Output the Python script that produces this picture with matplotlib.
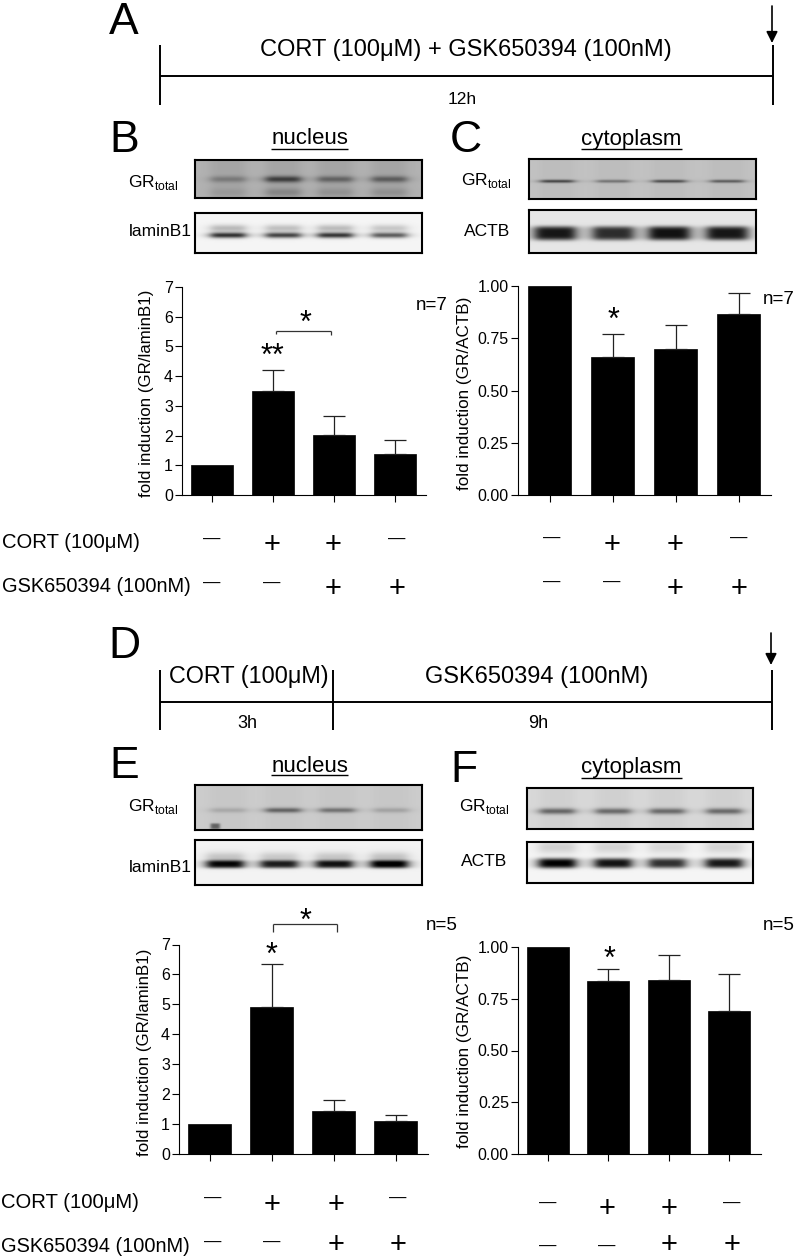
import numpy as np
import matplotlib
matplotlib.use('Agg')
import matplotlib.pyplot as plt

plt.rcParams['font.family'] = ['Liberation Sans', 'DejaVu Sans']
plt.rcParams['mathtext.fontset'] = 'custom'
plt.rcParams['mathtext.rm'] = 'Liberation Sans'

W, H = 796, 1257

# bar data
b_vals = [1.0, 3.5, 2.03, 1.38]
b_tops = [1.0, 4.2, 2.67, 1.85]
c_vals = [1.0, 0.66, 0.70, 0.865]
c_tops = [1.0, 0.77, 0.815, 0.965]
e_vals = [1.0, 4.9, 1.43, 1.1]
e_tops = [1.0, 6.35, 1.8, 1.3]
f_vals = [1.0, 0.835, 0.84, 0.69]
f_tops = [1.0, 0.895, 0.96, 0.87]

nuc_ticks = [0, 1, 2, 3, 4, 5, 6, 7]
cyt_ticks = [0.0, 0.25, 0.5, 0.75, 1.0]

cort_signs = ['-', '+', '+', '-']
gsk_signs = ['-', '-', '+', '+']

# band strength per lane of each blot
b_gr = [0.25, 0.60, 0.38, 0.42]
b_lamin = [0.80, 0.72, 0.78, 0.62]
c_gr = [0.62, 0.38, 0.58, 0.50]
c_actb = [0.90, 0.80, 0.92, 0.90]
e_gr = [0.15, 0.50, 0.42, 0.18]
e_lamin = [0.95, 0.85, 0.90, 1.0]
f_gr = [0.50, 0.48, 0.48, 0.48]
f_actb = [1.0, 0.92, 0.80, 0.90]


def px_axes(x0, y0, x1, y1):
    return fig.add_axes([x0 / W, 1 - y1 / H, (x1 - x0) / W, (y1 - y0) / H])


def blot(box, bg, lanes, strengths, lane_w, band_y, band_h, ghost_dy=None, ghost=0.0,
         power=2, smear=0.0, spot=None):
    x0, y0, x1, y1 = box
    ax = px_axes(x0, y0, x1, y1)
    xs = np.arange(x0, x1, 0.5)
    ys = np.arange(y0, y1, 0.5)
    xx, yy = np.meshgrid(xs, ys)
    img = np.full(xx.shape, float(bg))
    for cx, s in zip(lanes, strengths):
        across = 1 / (1 + ((xx - cx) / (lane_w / 2)) ** 6)
        img -= smear * across
        img -= bg * s * across * np.exp(-np.abs((yy - band_y) / band_h) ** power)
        if ghost_dy is not None:
            img -= bg * s * ghost * across * np.exp(-((yy - band_y - ghost_dy) / (band_h * 1.3)) ** 2)
    if spot is not None:
        img -= 0.4 * np.exp(-((xx - spot[0]) / 5) ** 4 - ((yy - spot[1]) / 3) ** 4)
    ax.imshow(np.clip(img, 0, 1), cmap='gray', vmin=0, vmax=1, aspect='auto')
    ax.set_xticks([])
    ax.set_yticks([])
    for s in ax.spines.values():
        s.set_linewidth(1.5)


def bars(box, centers, width, vals, tops, ymax, ticks, fmt):
    x0, y0, x1, y1 = box
    ax = px_axes(x0, y0, x1, y1)
    ax.set_xlim(x0, x1)
    ax.set_ylim(0, ymax)
    ax.bar(centers, vals, width=width, color='black', edgecolor='black', linewidth=0.5)
    for cx, v, t in zip(centers, vals, tops):
        if t > v:
            ax.errorbar(cx, v, yerr=[[0], [t - v]], color='#222222', elinewidth=0.9,
                        capsize=8, capthick=0.9)
    ax.spines['top'].set_visible(False)
    ax.spines['right'].set_visible(False)
    ax.spines['left'].set_linewidth(0.8)
    ax.spines['bottom'].set_linewidth(0.8)
    ax.set_xticks(centers)
    ax.set_xticklabels([])
    ax.set_yticks(ticks)
    ax.set_yticklabels([fmt % t for t in ticks], fontsize=11.5)
    ax.tick_params(axis='both', length=5, width=0.8, pad=1.5)
    ax.patch.set_alpha(0)
    return ax


def txt(x, y, s, size=14.5, **kw):
    kw.setdefault('ha', 'center')
    kw.setdefault('va', 'center')
    over.text(x, y, s, fontsize=size, **kw)


def line(xs, ys, lw=1.4, color='black'):
    over.plot(xs, ys, color=color, lw=lw, solid_capstyle='butt')


def signs(xs, y, row, plus_y=None):
    # last row sits against the page edge, so the plus can be held up a little
    if plus_y is None:
        plus_y = y + 4.5
    for cx, s in zip(xs, row):
        if s == '+':
            txt(cx, plus_y, '+', size=21)
        else:
            txt(cx, y - 2, '\u2014', size=12.5)


def arrow(x, y0, y1):
    over.annotate('', xy=(x, y1), xytext=(x, y0),
                  arrowprops=dict(arrowstyle='-|>', lw=1.2, color='black', mutation_scale=17,
                                  shrinkA=0, shrinkB=0))


fig = plt.figure(figsize=(W / 100, H / 100), dpi=100)

# full page layer in pixel units for labels and the timelines
over = fig.add_axes([0, 0, 1, 1], zorder=5)
over.set_xlim(0, W)
over.set_ylim(H, 0)
over.axis('off')

# A
txt(124, 23, 'A', size=32)
line([160, 773], [76, 76])
line([160, 160], [45, 105])
line([773, 773], [45, 105])
arrow(772, 6, 43)
txt(466, 50, 'CORT (100\u03bcM) + GSK650394 (100nM)', size=17)
txt(462, 100, '12h', size=12.5)

# D
txt(124, 647, 'D', size=32)
line([160, 772], [702, 702])
line([160, 160], [670, 730])
line([333, 333], [670, 730])
line([772, 772], [670, 730])
arrow(771, 633, 665)
txt(249, 677, 'CORT (100\u03bcM)', size=16.8)
txt(537, 677, 'GSK650394 (100nM)', size=17)
txt(247, 724, '3h', size=13)
txt(538, 724, '9h', size=13)

# B
txt(124, 141, 'B', size=32)
txt(310, 139, 'nucleus', size=16)
line([271, 348], [149, 149], lw=1.0)
blot((195, 160, 422, 198), 0.70, [228, 283, 335, 389], b_gr, 36, 179, 3.2, 13, 0.3, smear=0.05)
blot((195, 213, 422, 253), 0.96, [228, 283, 335, 389], b_lamin, 36, 235, 2.8, -7, 0.3)
txt(153, 182, 'GR$_{\\mathrm{total}}$', size=12.5)
txt(160, 232, 'laminB1', size=12.5)
ax_b = bars((182, 287, 426, 495), [212, 273, 334, 395], 42, b_vals, b_tops, 7, nuc_ticks, '%d')
txt(147, 393, 'fold induction (GR/laminB1)', size=12.2, rotation=90)
txt(432, 305, 'n=7', size=13.5)
txt(272, 357, '**', size=22)
txt(305, 324, '*', size=22)
line([276, 331], [331, 331], lw=0.9, color='#333333')
line([276, 276], [331, 334], lw=0.9, color='#333333')
line([331, 331], [331, 335], lw=0.9, color='#333333')
txt(71, 543, 'CORT (100\u03bcM)', size=14.6)
txt(96, 587, 'GSK650394 (100nM)', size=14.4)
signs([212, 272, 333, 397], 541, cort_signs)
signs([212, 272, 333, 397], 585, gsk_signs)

# C
txt(466, 141, 'C', size=32)
txt(631, 139, 'cytoplasm', size=16)
line([581, 682], [149, 149], lw=1.0)
blot((529, 159, 756, 199), 0.76, [557, 613, 669, 727], c_gr, 34, 181, 1.6, smear=0.02)
blot((529, 210, 756, 253), 0.90, [555, 613, 669, 727], c_actb, 42, 233, 7.0, power=4)
txt(486, 181, 'GR$_{\\mathrm{total}}$', size=12.5)
txt(487, 232, 'ACTB', size=12.5)
ax_c = bars((517.5, 286, 771, 495), [549.5, 612.5, 675.5, 738.5], 43, c_vals, c_tops, 1.0, cyt_ticks,
            '%.2f')
txt(464, 393, 'fold induction (GR/ACTB)', size=12.3, rotation=90)
txt(779, 300, 'n=7', size=13.5)
txt(613, 321, '*', size=22)
signs([552, 612, 675, 739], 540, cort_signs)
signs([552, 612, 675, 739], 584, gsk_signs)

# E
txt(124, 766, 'E', size=32)
txt(310, 766, 'nucleus', size=16)
line([271, 348], [775, 775], lw=1.0)
blot((195, 785, 422, 830), 0.80, [228, 283, 337, 391], e_gr, 36, 810, 2.5, smear=0.02, spot=(215, 826))
blot((195, 840, 422, 885), 0.95, [225, 279, 334, 389], e_lamin, 38, 864, 4.0, -7, 0.2, power=3)
txt(153, 807, 'GR$_{\\mathrm{total}}$', size=12.5)
txt(160, 868, 'laminB1', size=12.5)
ax_e = bars((179, 944.5, 428, 1154), [210, 272, 334, 396], 43, e_vals, e_tops, 7, nuc_ticks, '%d')
txt(144, 1052, 'fold induction (GR/laminB1)', size=12.2, rotation=90)
txt(442, 925, 'n=5', size=13.5)
txt(272, 956, '*', size=22)
txt(305, 922, '*', size=22)
line([272.5, 336.5], [923.5, 923.5], lw=0.9, color='#333333')
line([272.5, 272.5], [923.5, 932], lw=0.9, color='#333333')
line([336.5, 336.5], [923.5, 932], lw=0.9, color='#333333')
txt(70, 1203, 'CORT (100\u03bcM)', size=14.6)
txt(95, 1246, 'GSK650394 (100nM)', size=14.4)
signs([213, 272, 336, 398], 1200, cort_signs)
signs([213, 272, 336, 398], 1244, gsk_signs, plus_y=1245.5)

# F
txt(464, 770, 'F', size=32)
txt(631, 767, 'cytoplasm', size=16)
line([581, 682], [778, 778], lw=1.0)
blot((527, 788, 753, 829), 0.85, [557, 613, 667, 724], f_gr, 36, 811, 3.0, smear=0.03)
blot((527, 842, 753, 883), 0.96, [557, 613, 667, 724], f_actb, 38, 863, 5.0, -16, 0.15, power=3)
txt(484, 807, 'GR$_{\\mathrm{total}}$', size=12.5)
txt(484, 861, 'ACTB', size=12.5)
ax_f = bars((518, 947, 761, 1154), [548, 608.5, 669, 729.5], 42, f_vals, f_tops, 1.0, cyt_ticks,
            '%.2f')
txt(465, 1051, 'fold induction (GR/ACTB)', size=12.3, rotation=90)
txt(779, 925, 'n=5', size=13.5)
txt(609, 960, '*', size=22)
signs([548, 607, 669, 732], 1205, cort_signs)
signs([548, 607, 669, 732], 1248, gsk_signs, plus_y=1245.5)

fig.savefig('out.png', dpi=100)
